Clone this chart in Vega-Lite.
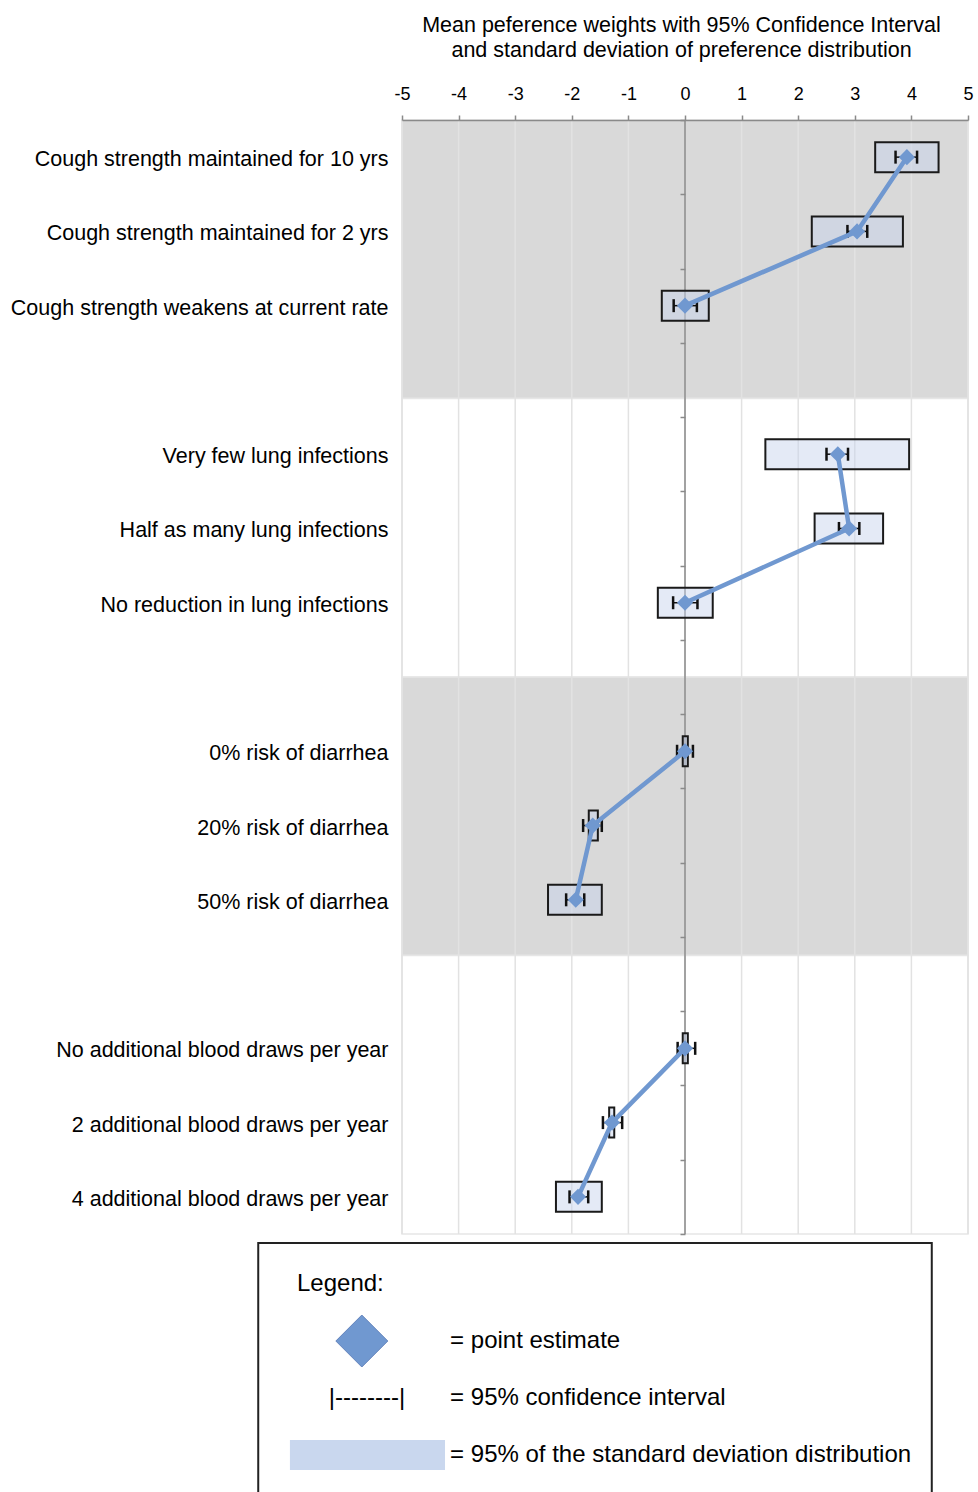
{
  "$schema": "https://vega.github.io/schema/vega-lite/v6.json",
  "width": 566,
  "height": 1114,
  "autosize": {"type": "none"},
  "padding": {"left": 402, "top": 120, "right": 10, "bottom": 258},
  "background": "white",
  "config": {"font": "Liberation Sans", "view": {"stroke": null}},
  "datasets": {
    "items": [
      {"item": "Cough strength maintained for 10 yrs", "attribute": "Cough strength", "mean": 3.92, "ci_lo": 3.72, "ci_hi": 4.10, "sd_lo": 3.36, "sd_hi": 4.48},
      {"item": "Cough strength maintained for 2 yrs", "attribute": "Cough strength", "mean": 3.04, "ci_lo": 2.87, "ci_hi": 3.22, "sd_lo": 2.24, "sd_hi": 3.85},
      {"item": "Cough strength weakens at current rate", "attribute": "Cough strength", "mean": 0, "ci_lo": -0.2, "ci_hi": 0.21, "sd_lo": -0.41, "sd_hi": 0.42},
      {"item": "Very few lung infections", "attribute": "Lung infections", "mean": 2.70, "ci_lo": 2.50, "ci_hi": 2.88, "sd_lo": 1.42, "sd_hi": 3.96},
      {"item": "Half as many lung infections", "attribute": "Lung infections", "mean": 2.90, "ci_lo": 2.72, "ci_hi": 3.08, "sd_lo": 2.29, "sd_hi": 3.50},
      {"item": "No reduction in lung infections", "attribute": "Lung infections", "mean": 0, "ci_lo": -0.21, "ci_hi": 0.22, "sd_lo": -0.48, "sd_hi": 0.49},
      {"item": "0% risk of diarrhea", "attribute": "Diarrhea risk", "mean": 0, "ci_lo": -0.14, "ci_hi": 0.14, "sd_lo": -0.04, "sd_hi": 0.05},
      {"item": "20% risk of diarrhea", "attribute": "Diarrhea risk", "mean": -1.63, "ci_lo": -1.80, "ci_hi": -1.47, "sd_lo": -1.70, "sd_hi": -1.54},
      {"item": "50% risk of diarrhea", "attribute": "Diarrhea risk", "mean": -1.93, "ci_lo": -2.10, "ci_hi": -1.78, "sd_lo": -2.42, "sd_hi": -1.47},
      {"item": "No additional blood draws per year", "attribute": "Blood draws", "mean": 0, "ci_lo": -0.13, "ci_hi": 0.18, "sd_lo": -0.04, "sd_hi": 0.05},
      {"item": "2 additional blood draws per year", "attribute": "Blood draws", "mean": -1.29, "ci_lo": -1.45, "ci_hi": -1.11, "sd_lo": -1.34, "sd_hi": -1.25},
      {"item": "4 additional blood draws per year", "attribute": "Blood draws", "mean": -1.89, "ci_lo": -2.04, "ci_hi": -1.71, "sd_lo": -2.28, "sd_hi": -1.47}
    ],
    "bands": [
      {"attribute": "Cough strength"},
      {"attribute": "Lung infections"},
      {"attribute": "Diarrhea risk"},
      {"attribute": "Blood draws"}
    ],
    "grid": [
      {"v": -5}, {"v": -4}, {"v": -3}, {"v": -2}, {"v": -1}, {"v": 0},
      {"v": 1}, {"v": 2}, {"v": 3}, {"v": 4}, {"v": 5}
    ],
    "legend": [
      {"row": 1, "label": "Legend:"},
      {"row": 2, "label": "= point estimate"},
      {"row": 3, "label": "= 95% confidence interval"},
      {"row": 4, "label": "= 95% of the standard deviation distribution"}
    ]
  },
  "resolve": {"scale": {"y": "independent"}},
  "layer": [
    {
      "data": {"name": "bands"},
      "mark": {"type": "rect", "stroke": "#e6e6e6", "strokeWidth": 1.5},
      "encoding": {
        "x": {"datum": -5, "type": "quantitative", "scale": {"domain": [-5, 5], "nice": false, "zero": false}},
        "x2": {"datum": 5},
        "y": {
          "field": "attribute", "type": "nominal",
          "scale": {"domain": ["Cough strength", "Lung infections", "Diarrhea risk", "Blood draws"], "paddingInner": 0, "paddingOuter": 0},
          "axis": null
        },
        "color": {
          "field": "attribute", "type": "nominal",
          "scale": {"domain": ["Cough strength", "Lung infections", "Diarrhea risk", "Blood draws"], "range": ["#d9d9d9", "#ffffff", "#d9d9d9", "#ffffff"]},
          "legend": null
        }
      }
    },
    {
      "data": {"name": "grid"},
      "mark": {"type": "rule", "color": "#e2e2e2", "strokeWidth": 1.5},
      "encoding": {
        "x": {
          "field": "v", "type": "quantitative",
          "scale": {"domain": [-5, 5], "nice": false, "zero": false},
          "axis": {
            "orient": "top",
            "values": [-5, -4, -3, -2, -1, 0, 1, 2, 3, 4, 5],
            "labelExpr": "datum.value + ''",
            "grid": false,
            "zindex": 1,
            "domainColor": "#8a8a8a", "domainWidth": 1.5,
            "tickColor": "#8a8a8a", "tickWidth": 1.5, "tickSize": 5,
            "labelFontSize": 18, "labelColor": "#000000",
            "labelBaseline": "alphabetic", "labelPadding": 16,
            "labelFlush": false, "labelOverlap": false,
            "title": ["Mean peference weights with 95% Confidence Interval", "and standard deviation of preference distribution"],
            "titleFontSize": 21.5, "titleFontWeight": "normal", "titleColor": "#000000",
            "titleX": 279, "titleY": -89, "titleAlign": "center", "titleBaseline": "alphabetic",
            "titleLineHeight": 25, "titleAngle": 0
          }
        }
      }
    },
    {
      "data": {"name": "grid"},
      "transform": [{"filter": "datum.v === 0"}],
      "mark": {"type": "rule", "color": "#8a8a8a", "strokeWidth": 1.5},
      "encoding": {
        "x": {"field": "v", "type": "quantitative", "scale": {"domain": [-5, 5], "nice": false, "zero": false}}
      }
    },
    {
      "data": {"name": "items"},
      "mark": {"type": "bar", "size": 30, "fill": "#c6d4ec", "fillOpacity": 0.48, "stroke": "#1a1a1a", "strokeWidth": 2},
      "encoding": {
        "x": {"field": "sd_lo", "type": "quantitative", "scale": {"domain": [-5, 5], "nice": false, "zero": false}},
        "x2": {"field": "sd_hi"},
        "y": {
          "field": "item", "type": "nominal",
          "scale": {
            "domain": ["Cough strength maintained for 10 yrs", "Cough strength maintained for 2 yrs", "Cough strength weakens at current rate", " ",
                       "Very few lung infections", "Half as many lung infections", "No reduction in lung infections", "  ",
                       "0% risk of diarrhea", "20% risk of diarrhea", "50% risk of diarrhea", "   ",
                       "No additional blood draws per year", "2 additional blood draws per year", "4 additional blood draws per year"],
            "paddingInner": 0, "paddingOuter": 0
          },
          "axis": {
            "orient": "left", "ticks": false, "domain": false, "grid": false, "title": null,
            "labelFontSize": 21.5, "labelColor": "#000000", "labelPadding": 14, "labelLimit": 600,
            "labelBaseline": "alphabetic", "labelOffset": 9
          }
        }
      }
    },
    {
      "data": {"name": "items"},
      "encoding": {
        "y": {
          "field": "item", "type": "nominal",
          "scale": {
            "domain": ["Cough strength maintained for 10 yrs", "Cough strength maintained for 2 yrs", "Cough strength weakens at current rate", " ",
                       "Very few lung infections", "Half as many lung infections", "No reduction in lung infections", "  ",
                       "0% risk of diarrhea", "20% risk of diarrhea", "50% risk of diarrhea", "   ",
                       "No additional blood draws per year", "2 additional blood draws per year", "4 additional blood draws per year"],
            "paddingInner": 0, "paddingOuter": 0
          },
          "axis": {
            "orient": "left", "offset": -283, "labels": false, "ticks": true, "tickBand": "extent",
            "tickSize": 5, "tickColor": "#8a8a8a", "tickWidth": 1.5,
            "domain": false, "grid": false, "title": null, "zindex": 1
          }
        }
      },
      "layer": [
        {
          "mark": {"type": "rule", "color": "#111111", "strokeWidth": 1.5},
          "encoding": {
            "x": {"field": "ci_lo", "type": "quantitative", "scale": {"domain": [-5, 5], "nice": false, "zero": false}},
            "x2": {"field": "ci_hi"}
          }
        },
        {
          "mark": {"type": "tick", "color": "#111111", "size": 13, "thickness": 2.5, "opacity": 1},
          "encoding": {"x": {"field": "ci_lo", "type": "quantitative", "scale": {"domain": [-5, 5], "nice": false, "zero": false}}}
        },
        {
          "mark": {"type": "tick", "color": "#111111", "size": 13, "thickness": 2.5, "opacity": 1},
          "encoding": {"x": {"field": "ci_hi", "type": "quantitative", "scale": {"domain": [-5, 5], "nice": false, "zero": false}}}
        },
        {
          "mark": {"type": "line", "color": "#7098d0", "strokeWidth": 4.5},
          "encoding": {
            "x": {"field": "mean", "type": "quantitative", "scale": {"domain": [-5, 5], "nice": false, "zero": false}},
            "detail": {"field": "attribute"},
            "order": {"value": null}
          }
        },
        {
          "mark": {"type": "point", "shape": "diamond", "filled": true, "size": 260, "color": "#7098d0", "opacity": 1},
          "encoding": {"x": {"field": "mean", "type": "quantitative", "scale": {"domain": [-5, 5], "nice": false, "zero": false}}}
        }
      ]
    },
    {
      "data": {"name": "legend"},
      "encoding": {
        "y": {"field": "row", "type": "quantitative", "scale": {"domain": [0.28, 5], "range": [1123, 1392], "nice": false, "zero": false}, "axis": null}
      },
      "layer": [
        {
          "transform": [{"filter": "datum.row === 1"}],
          "mark": {"type": "rect", "fill": "#ffffff", "stroke": "#222222", "strokeWidth": 2},
          "encoding": {
            "x": {"datum": -7.54, "type": "quantitative", "scale": {"domain": [-5, 5], "nice": false, "zero": false}},
            "x2": {"datum": 4.36},
            "y": {"datum": 0.28, "type": "quantitative"},
            "y2": {"datum": 5}
          }
        },
        {
          "transform": [{"filter": "datum.row === 1"}],
          "mark": {"type": "text", "align": "left", "baseline": "middle", "fontSize": 24, "color": "#000000"},
          "encoding": {
            "x": {"datum": -6.855, "type": "quantitative", "scale": {"domain": [-5, 5], "nice": false, "zero": false}},
            "text": {"field": "label"}
          }
        },
        {
          "transform": [{"filter": "datum.row > 1"}],
          "mark": {"type": "text", "align": "left", "baseline": "middle", "fontSize": 24, "color": "#000000"},
          "encoding": {
            "x": {"datum": -4.15, "type": "quantitative", "scale": {"domain": [-5, 5], "nice": false, "zero": false}},
            "text": {"field": "label"}
          }
        },
        {
          "transform": [{"filter": "datum.row === 2"}],
          "mark": {"type": "point", "shape": "diamond", "filled": true, "size": 2700, "color": "#7098d0", "opacity": 1, "stroke": "#6585bd", "strokeWidth": 1},
          "encoding": {
            "x": {"datum": -5.71, "type": "quantitative", "scale": {"domain": [-5, 5], "nice": false, "zero": false}}
          }
        },
        {
          "transform": [{"filter": "datum.row === 3"}],
          "mark": {"type": "text", "align": "center", "baseline": "middle", "fontSize": 24, "color": "#000000", "text": "|--------|"},
          "encoding": {
            "x": {"datum": -5.62, "type": "quantitative", "scale": {"domain": [-5, 5], "nice": false, "zero": false}}
          }
        },
        {
          "transform": [{"filter": "datum.row === 4"}],
          "mark": {"type": "rect", "fill": "#c9d7ee"},
          "encoding": {
            "x": {"datum": -6.98, "type": "quantitative", "scale": {"domain": [-5, 5], "nice": false, "zero": false}},
            "x2": {"datum": -4.24},
            "y": {"datum": 3.737, "type": "quantitative"},
            "y2": {"datum": 4.263}
          }
        }
      ]
    }
  ]
}
